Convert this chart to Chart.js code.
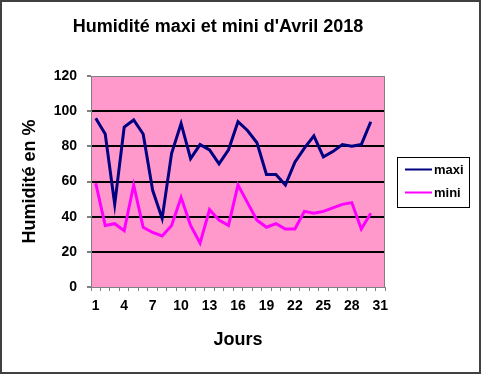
<!DOCTYPE html>
<html>
<head>
<meta charset="utf-8">
<script src="https://cdn.jsdelivr.net/npm/chart.js@4/dist/chart.umd.min.js"></script>
<style>
  html, body { margin: 0; padding: 0; background: #ffffff; }
  #humChart { display: block; }
</style>
</head>
<body>
<canvas id="humChart" width="481" height="374"></canvas>
<script>
/* ---------- Data ---------- */
const days = [1, 2, 3, 4, 5, 6, 7, 8, 9, 10, 11, 12, 13, 14, 15, 16,
              17, 18, 19, 20, 21, 22, 23, 24, 25, 26, 27, 28, 29, 30, 31];
const maxi = [96, 87, 47, 91, 95, 87, 55, 39, 76, 93, 73, 81, 78, 70, 78,
              94, 89, 82, 64, 64, 58, 71, 79, 86, 74, 77, 81, 80, 81, 94];
const mini = [59, 35, 36, 32, 58, 34, 31, 29, 35, 51, 35, 25, 44, 38, 35,
              58, 48, 38, 34, 36, 33, 33, 43, 42, 43, 45, 47, 48, 33, 42];
const yTicks = [0, 20, 40, 60, 80, 100, 120];

const FONT = "'Liberation Sans', Arial, sans-serif";
const PINK = "#FF99CC";
const AXIS_GREY = "#808080";

/* ---------- Decorations: background, title, legend, frame ---------- */
const humDecor = {
    id: "humDecor",
    beforeDraw: function (chart) {
        const c = chart.ctx, a = chart.chartArea;
        c.save();
        c.fillStyle = "#ffffff";
        c.fillRect(0, 0, chart.width, chart.height);
        c.fillStyle = PINK;
        c.fillRect(a.left, a.top, a.right - a.left, a.bottom - a.top);
        c.restore();
    },
    afterDraw: function (chart) {
        const c = chart.ctx, a = chart.chartArea;
        c.save();
        // top + right plot border
        c.strokeStyle = AXIS_GREY;
        c.lineWidth = 1;
        c.beginPath();
        c.moveTo(a.left, a.top + 0.5);
        c.lineTo(a.right - 0.5, a.top + 0.5);
        c.lineTo(a.right - 0.5, a.bottom);
        c.stroke();

        // title
        c.fillStyle = "#000000";
        c.font = "bold 18px " + FONT;
        c.textAlign = "center";
        c.textBaseline = "alphabetic";
        c.fillText("Humidité maxi et mini d'Avril 2018", 218, 32);

        // legend box
        c.fillStyle = "#ffffff";
        c.fillRect(397, 157, 72, 50);
        c.strokeStyle = "#000000";
        c.lineWidth = 1;
        c.strokeRect(397.5, 157.5, 72, 50);
        c.font = "bold 13px " + FONT;
        c.textAlign = "left";
        c.textBaseline = "middle";
        chart.data.datasets.forEach(function (ds, i) {
            const y = 169 + i * 23;
            c.strokeStyle = ds.borderColor;
            c.lineWidth = 2;
            c.beginPath();
            c.moveTo(405, y + 0.5);
            c.lineTo(432, y + 0.5);
            c.stroke();
            c.fillStyle = "#000000";
            c.fillText(ds.label, 434, y + 1);
        });

        // outer frame
        c.strokeStyle = "#404040";
        c.lineWidth = 2;
        c.strokeRect(1, 1, chart.width - 2, chart.height - 2);
        c.restore();
    }
};

/* ---------- Chart ---------- */
function humInitChart() {
    const canvas = document.getElementById("humChart");
    new Chart(canvas.getContext("2d"), {
        type: "line",
        data: {
            labels: days,
            datasets: [
                { label: "maxi", data: maxi, borderColor: "#000080", borderWidth: 3, pointRadius: 0, tension: 0, fill: false },
                { label: "mini", data: mini, borderColor: "#FF00FF", borderWidth: 3, pointRadius: 0, tension: 0, fill: false }
            ]
        },
        options: {
            responsive: false,
            animation: false,
            devicePixelRatio: 1,
            layout: { padding: { top: 76, right: 96, left: 0, bottom: 0 } },
            plugins: { legend: { display: false }, title: { display: false }, tooltip: { enabled: false } },
            scales: {
                x: {
                    type: "category",
                    offset: true,
                    afterFit: function (s) { s.height = 87; },
                    grid: { offset: true, drawOnChartArea: false, drawTicks: true, tickLength: 4, tickColor: AXIS_GREY, lineWidth: 1 },
                    border: { display: true, color: AXIS_GREY, width: 1 },
                    ticks: {
                        autoSkip: false, maxRotation: 0, padding: 7, color: "#000000",
                        font: { family: FONT, size: 14, weight: "bold" },
                        callback: function (val, i) { return i % 3 === 0 ? String(days[i]) : ""; }
                    },
                    title: { display: true, text: "Jours", color: "#000000", padding: { top: 0, bottom: 23 }, font: { family: FONT, size: 18, weight: "bold" } }
                },
                y: {
                    min: yTicks[0],
                    max: yTicks[yTicks.length - 1],
                    afterFit: function (s) { s.width = 91; },
                    afterBuildTicks: function (s) { s.ticks = yTicks.map(function (v) { return { value: v }; }); },
                    grid: {
                        drawTicks: true, tickLength: 4, tickColor: AXIS_GREY, lineWidth: 2,
                        color: function (ctx) {
                            const v = ctx.tick && ctx.tick.value;
                            return (v === 0 || v === 120) ? "rgba(0,0,0,0)" : "#000000";
                        }
                    },
                    border: { display: true, color: AXIS_GREY, width: 1 },
                    ticks: { padding: 10, color: "#000000", font: { family: FONT, size: 14, weight: "bold" } },
                    title: { display: true, text: "Humidité en %", color: "#000000", padding: { top: 19, bottom: 0 }, font: { family: FONT, size: 18, weight: "bold" } }
                }
            }
        },
        plugins: [humDecor]
    });
}

document.addEventListener("DOMContentLoaded", humInitChart);
</script>
</body>
</html>
